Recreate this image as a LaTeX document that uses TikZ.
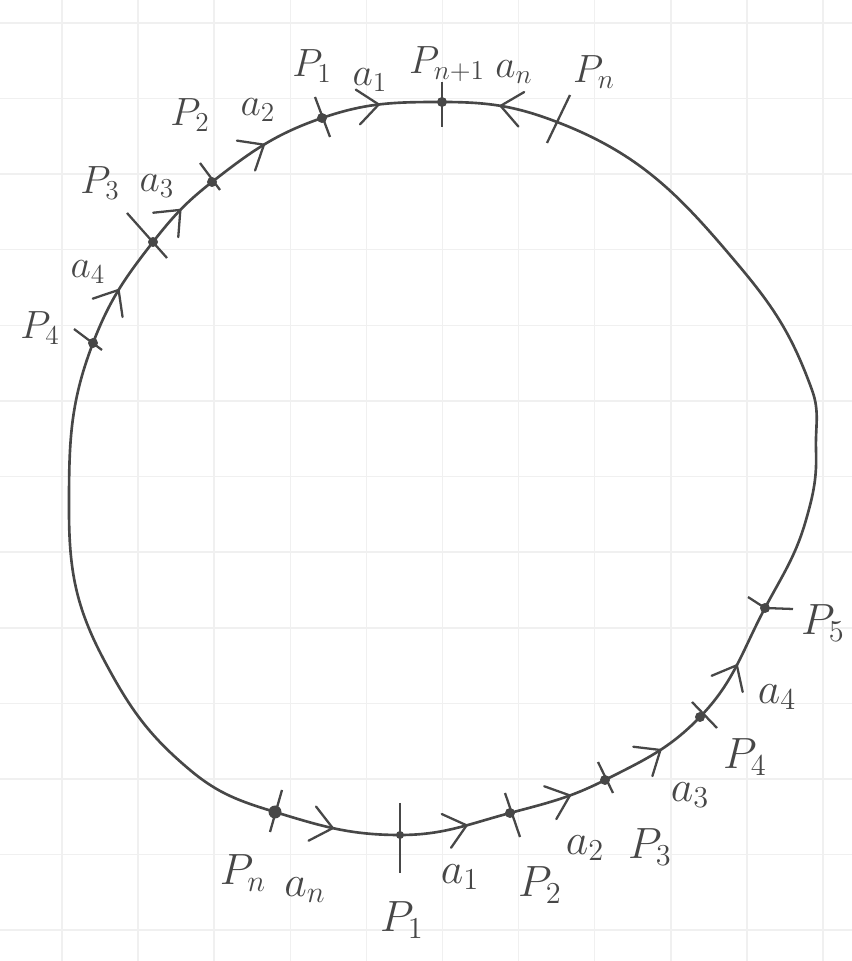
\documentclass[tikz,border=0pt]{standalone}
\usetikzlibrary{decorations.markings}
\definecolor{pencil}{gray}{0.28}
\begin{document}
\begin{tikzpicture}[x=0.02cm,y=0.02cm,
  gridline/.style={black!6,line width=0.8pt},
  curve/.style={pencil,line width=1.5pt,line cap=round},
  tick/.style={pencil,line width=1.3pt},
  chevron/.style={pencil,line width=1.3pt,line cap=round},
  fwd/.style={postaction={decorate,decoration={markings,mark=at position #1 with {\draw[chevron] (-0.42cm,0.35cm) -- (0,0) -- (-0.42cm,-0.35cm);}}}},
  bwd/.style={postaction={decorate,decoration={markings,mark=at position #1 with {\draw[chevron] (0.42cm,0.35cm) -- (0,0) -- (0.42cm,-0.35cm);}}}},
  dot/.style={fill=pencil},
  lbl/.style={pencil,font=\huge,scale=1.2,transform shape,inner sep=0pt},
  toplbl/.style={lbl,scale=0.9}]
\useasboundingbox (0,0) rectangle (852,961);
\foreach \k in {0,...,10} \draw[gridline] ({62+76.1*\k},0) -- ({62+76.1*\k},961);
\foreach \k in {0,...,12} \draw[gridline] (0,{938-75.6*\k}) -- (852,{938-75.6*\k});
\coordinate (P1b) at (400,126);
\coordinate (P2b) at (510,148);
\coordinate (P3r) at (605,181);
\coordinate (P4r) at (700,244);
\coordinate (P5) at (765,353);
\coordinate (r7) at (806,441);
\coordinate (r6) at (816,511);
\coordinate (r5) at (812,571);
\coordinate (r3) at (740,694);
\coordinate (Pnt) at (557,839);
\coordinate (Pnp1) at (442,859);
\coordinate (P1t) at (322,843);
\coordinate (P2l) at (212,779);
\coordinate (P3l) at (153,719);
\coordinate (P4l) at (93,618);
\coordinate (l1) at (69,451);
\coordinate (l2) at (104,301);
\coordinate (l3) at (190,191);
\coordinate (Pnb) at (275,149);
\draw[curve,fwd=0.47] (Pnb) to[out=343,in=180] (P1b);
\draw[curve,fwd=0.6] (P1b) to[out=0,in=195] (P2b);
\draw[curve,fwd=0.62] (P2b) to[out=15,in=207] (P3r);
\draw[curve,fwd=0.55] (P3r) to[out=27,in=226] (P4r);
\draw[curve,fwd=0.5] (P4r) to[out=46,in=242] (P5);
\draw[curve] (P5) to[out=62,in=254] (r7) to[out=74,in=272] (r6) to[out=92,in=290] (r5) to[out=110,in=310] (r3) to[out=130,in=339] (Pnt);
\draw[curve,fwd=0.5] (Pnt) to[out=159,in=0] (Pnp1);
\draw[curve,bwd=0.52] (Pnp1) to[out=180,in=19] (P1t);
\draw[curve,bwd=0.5] (P1t) to[out=199,in=38] (P2l);
\draw[curve,bwd=0.5] (P2l) to[out=218,in=52] (P3l);
\draw[curve,bwd=0.5] (P3l) to[out=232,in=69] (P4l);
\draw[curve] (P4l) to[out=249,in=90] (l1) to[out=270,in=118] (l2) to[out=298,in=140] (l3) to[out=320,in=163] (Pnb);
\draw[tick] ([shift={(-19,14)}]P4l) -- ([shift={(9,-7)}]P4l);
\draw[tick] ([shift={(-26,29)}]P3l) -- ([shift={(14,-16)}]P3l);
\draw[tick] ([shift={(-12,19)}]P2l) -- ([shift={(8,-8)}]P2l);
\draw[tick] ([shift={(-7,21)}]P1t) -- ([shift={(8,-19)}]P1t);
\draw[tick] ([shift={(0,20)}]Pnp1) -- ([shift={(0,-25)}]Pnp1);
\draw[tick] ([shift={(13,27)}]Pnt) -- ([shift={(-10,-21)}]Pnt);
\draw[tick] ([shift={(-17,11)}]P5) -- (P5) -- ([shift={(28,-1)}]P5);
\draw[tick] ([shift={(-8,15)}]P4r) -- ([shift={(17,-11)}]P4r);
\draw[tick] ([shift={(-7,18)}]P3r) -- ([shift={(8,-13)}]P3r);
\draw[tick] ([shift={(-5,20)}]P2b) -- ([shift={(10,-24)}]P2b);
\draw[tick] ([shift={(0,32)}]P1b) -- ([shift={(0,-38)}]P1b);
\draw[tick] ([shift={(7,22)}]Pnb) -- ([shift={(-5,-20)}]Pnb);
\foreach \p in {P4l,P3l,P2l,P1t,Pnp1,P5,P4r,P3r,P2b} \fill[dot] (\p) circle (0.1cm);
\fill[dot] (P1b) circle (0.08cm);
\fill[dot] (Pnb) circle (0.13cm);
\node[toplbl] (tP4l) at (40,633) {$P_4$};
\node[toplbl] (ta4l) at (88,689) {$a_4$};
\node[toplbl] (tP3l) at (100,778) {$P_3$};
\node[toplbl] (ta3l) at (157,775) {$a_3$};
\node[toplbl] (tP2l) at (190,846) {$P_2$};
\node[toplbl] (ta2t) at (258,851) {$a_2$};
\node[toplbl] (tP1t) at (312,895) {$P_1$};
\node[toplbl] (ta1t) at (370,881) {$a_1$};
\node[toplbl] (tPnp1) at (447,897) {$P_{n+1}$};
\node[toplbl] (tant) at (514,889) {$a_n$};
\node[toplbl] (tPnt) at (594,889) {$P_n$};
\node[lbl] (tP5) at (823,338) {$P_5$};
\node[lbl] (ta4r) at (777,264) {$a_4$};
\node[lbl] (tP4r) at (745,204) {$P_4$};
\node[lbl] (ta3r) at (690,166) {$a_3$};
\node[lbl] (tP3r) at (650,114) {$P_3$};
\node[lbl] (ta2b) at (585,113) {$a_2$};
\node[lbl] (tP2b) at (540,76) {$P_2$};
\node[lbl] (ta1b) at (460,84) {$a_1$};
\node[lbl] (tP1b) at (402,41) {$P_1$};
\node[lbl] (tanb) at (305,71) {$a_n$};
\node[lbl] (tPnb) at (243,88) {$P_n$};
\end{tikzpicture}
\end{document}
